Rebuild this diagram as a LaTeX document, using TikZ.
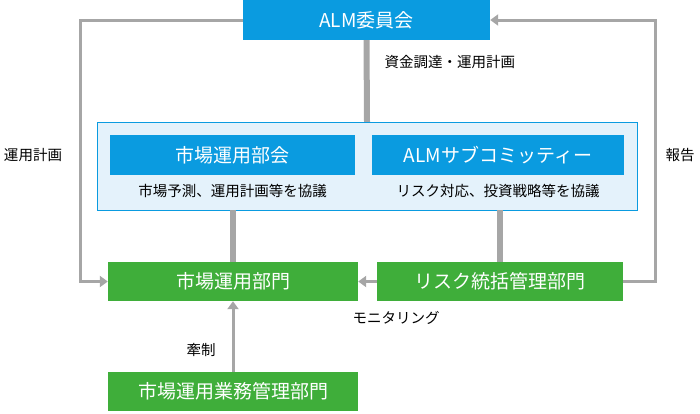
\documentclass[tikz,border=0pt]{standalone}
\usepackage{fontspec}
\setmainfont{Noto Sans CJK JP}
\usetikzlibrary{positioning,arrows.meta,calc}
\definecolor{almblue}{HTML}{0A9BE0}
\definecolor{paleblue}{HTML}{E4F2FB}
\definecolor{deptgreen}{HTML}{3FAE3A}
\definecolor{linegray}{HTML}{A6A6A6}
\tikzset{
    bluebox/.style={fill=almblue, text=white, minimum height=40pt, font=\fontsize{19}{22}\selectfont, inner sep=0pt},
    greenbox/.style={fill=deptgreen, text=white, minimum height=39pt, font=\fontsize{19}{22}\selectfont, inner sep=0pt},
    caption/.style={font=\fontsize{14.5}{17}\selectfont},
    link/.style={draw=linegray, line width=6pt},
    flow/.style={draw=linegray, line width=3pt, -{Triangle[length=8pt,width=11pt]}}
}
\begin{document}
\begin{tikzpicture}[x=1pt,y=-1pt]
    \useasboundingbox (0,0) rectangle (700,413);

    % Committee and container
    \node[bluebox, minimum width=247pt] (alm) at (366.5,20) {ALM委員会};
    \node[draw=almblue, fill=paleblue, minimum width=540pt, minimum height=88pt] (group) at (367,166) {};
    \node[bluebox, minimum width=245pt] (market) at (232.5,155) {市場運用部会};
    \node[bluebox, minimum width=252pt] (sub) at (498,155) {ALMサブコミッティー};
    \node[caption] (marketnote) at (232.5,191) {市場予測、運用計画等を協議};
    \node[caption] (subnote) at (498,191) {リスク対応、投資戦略等を協議};

    % Departments
    \node[greenbox, minimum width=250pt] (dept) at (233,281.5) {市場運用部門};
    \node[greenbox, minimum width=246pt] (risk) at (500,281.5) {リスク統括管理部門};
    \node[greenbox, minimum width=250pt] (ops) at (233,391.5) {市場運用業務管理部門};

    % Vertical links
    \draw[link] (alm.south) -- (group.north);
    \draw[link] (group.south -| dept.north) -- (dept.north);
    \draw[link] (group.south -| risk.north) -- (risk.north);
    \node[caption, anchor=west] (fund) at (381,62) {資金調達・運用計画};

    % Outer loops
    \draw[flow] (alm.west) -| (80,281.5) -- (dept.west);
    \node[caption] (planlbl) at (33,155) {運用計画};
    \draw[flow] (risk.east) -| (655,20) -- (alm.east);
    \node[caption] (reportlbl) at (680,155) {報告};

    % Monitoring and check
    \draw[flow] (risk.west) -- (dept.east);
    \node[caption] (monitor) at (396,318) {モニタリング};
    \draw[flow] (ops.north) -- (dept.south);
    \node[caption] (check) at (201,350) {牽制};
\end{tikzpicture}
\end{document}
